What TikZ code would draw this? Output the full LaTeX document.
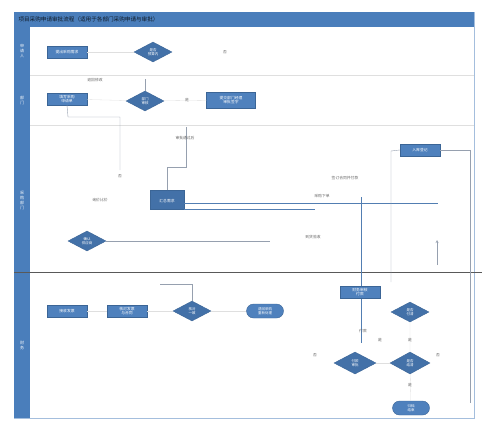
\documentclass[tikz,border=0pt]{standalone}
\usepackage{fontspec}
\newfontfamily\cjk{Noto Sans CJK SC}
\usetikzlibrary{shapes.geometric,shapes.misc}

\definecolor{laneblue}{RGB}{74,126,187}
\definecolor{boxblue}{RGB}{79,129,189}
\definecolor{linegray}{RGB}{150,160,175}
\tikzset{
  proc/.style={draw=laneblue!80!black,fill=boxblue,text=white,minimum width=40pt,minimum height=12pt,
    inner sep=0.5pt,align=center,font=\cjk\fontsize{3.8}{4.3}\selectfont},
  dec/.style={diamond,aspect=1.9,draw=laneblue!80!black,fill=laneblue!90!black,text=white,
    minimum width=38pt,minimum height=20pt,inner sep=0pt,align=center,font=\cjk\fontsize{3.5}{4}\selectfont},
  term/.style={rounded rectangle,draw=laneblue!80!black,fill=boxblue,text=white,minimum width=38pt,
    minimum height=14pt,inner sep=0.5pt,align=center,font=\cjk\fontsize{3.5}{4}\selectfont},
  flow/.style={draw=linegray,line width=0.4pt},
  faint/.style={draw=gray!25,line width=0.3pt},
  main/.style={draw=laneblue!85!gray,line width=0.8pt},
  note/.style={text=gray!80!black,font=\cjk\fontsize{3.8}{4.3}\selectfont},
  lanetxt/.style={text=white,align=center,font=\cjk\fontsize{4}{5}\selectfont}
}

\begin{document}
\begin{tikzpicture}[x=1pt,y=-1pt]
\useasboundingbox (0,0) rectangle (486,421);

% frame and lanes
\draw[laneblue!50,line width=0.6pt] (14,12) rectangle (474,418);
\fill[laneblue] (14,12) rectangle (474,27);
\fill[laneblue] (14,27) rectangle (30,418);
\draw[gray!25] (30,75) -- (474,75);
\draw[gray!25] (30,125) -- (474,125);
\draw[gray!70!black,line width=0.6pt] (14,272) -- (482,272);

\node[anchor=west,text=laneblue!20!black,font=\cjk\fontsize{5.6}{6}\selectfont] (title) at (15,19) {项目采购申请审批流程（适用于各部门采购申请与审批）};
\node[lanetxt] (l1) at (22,51) {申\\请\\人};
\node[lanetxt] (l2) at (22,100) {部\\门};
\node[lanetxt] (l3) at (22,200) {采\\购\\部\\门};
\node[lanetxt] (l4) at (22,345) {财\\务};

% lane 1
\node[proc] (a1) at (67,52) {提出采购需求};
\node[dec] (d1) at (153,52) {是否\\预算内};
\node[note] (n1) at (225,52) {否};
\draw[faint] (a1) -- (d1);

% lane 2
\node[proc] (a2) at (67,99) {填写采购\\申请单};
\node[dec] (d2) at (145,101) {部门\\审核};
\node[note] (n2) at (187,100) {是};
\node[proc,minimum width=49pt,minimum height=16pt] (a3) at (231,100) {提交部门经理\\审批签字};
\coordinate (c1) at (145,79);
\node[note] (n3) at (95,80) {退回修改};
\draw[flow] (d2.north) -- (c1);
\draw[faint] (a2) -- (d2) -- (a3);
\coordinate (c2) at (68,117);
\coordinate (c3) at (120,170);
\draw[flow] (a2.south) -- (c2) -| (c3);
\node[note] (n4) at (120,176) {否};

% lane 3
\node[proc,fill=laneblue!90!black,minimum width=34pt,minimum height=19pt] (a4) at (167,200) {\\汇总需求};
\coordinate (c4) at (186,167);
\coordinate (c5) at (186,127);
\draw[flow] (a4.north) |- (c4) -- (c5);
\node[note] (n5) at (185,138) {审批通过后};
\node[note] (n6) at (100,200) {询价比价};
\coordinate (e1) at (438,203);
\coordinate (e2) at (315,209);
\draw[main] (a4.east |- e1) -- (e1);
\draw[main] (a4.east |- e2) -- (e2);
\node[dec] (d3) at (87,241) {确认\\供应商};
\coordinate (e3) at (270,241);
\draw[flow] (d3.east) -- (e3);
\node[note] (n7) at (345,178) {签订合同并付款};
\node[note] (n8) at (322,196) {采购下单};
\node[note] (n9) at (313,237) {到货验收};

\node[proc] (a5) at (420,150) {入库登记};
\coordinate (e4) at (391,151);
\coordinate (e6) at (391,282);
\coordinate (e7) at (470,403);
\draw[flow] (a5.west) -- (e4) -- (e6);
\draw[flow] (a5.east) -| (e7);
\coordinate (u1) at (437,265);
\coordinate (u2) at (437,240);
\draw[flow,-stealth] (u1) -- (u2);

% lane 4
\coordinate (e8) at (361,197);
\coordinate (e9) at (361,343);
\draw[main] (e8) -- (e9);
\node[proc] (b1) at (67,311) {接收发票};
\node[proc] (b2) at (127,311) {核对发票\\与合同};
\node[dec] (d4) at (192,311) {核对\\一致};
\coordinate (f1) at (192,284);
\coordinate (f2) at (160,284);
\draw[flow] (d4.north) -- (f1) -- (f2);
\node[term] (t1) at (265,311) {退回采购\\重新处理};
\node[proc] (a7) at (360,292) {财务审核\\付款};
\node[dec] (d5) at (410,312) {是否\\付清};
\node[dec,minimum width=42pt,minimum height=22pt] (d6) at (355,363) {付款\\审批};
\node[dec,minimum width=40pt,minimum height=22pt] (d7) at (410,363) {是否\\结清};
\node[term] (t2) at (411,408) {归档\\结束};
\draw[faint] (b1) -- (b2) -- (d4) -- (t1);
\draw[faint] (d5) -- (d7) -- (t2);
\draw[faint] (d6) -- (d7);
\node[note] (n10) at (363,331) {付款};
\node[note] (n11) at (315,355) {否};
\node[note] (n12) at (380,340) {是};
\node[note] (n13) at (410,340) {是};
\node[note] (n14) at (438,355) {否};
\node[note] (n15) at (410,385) {是};
\end{tikzpicture}
\end{document}
